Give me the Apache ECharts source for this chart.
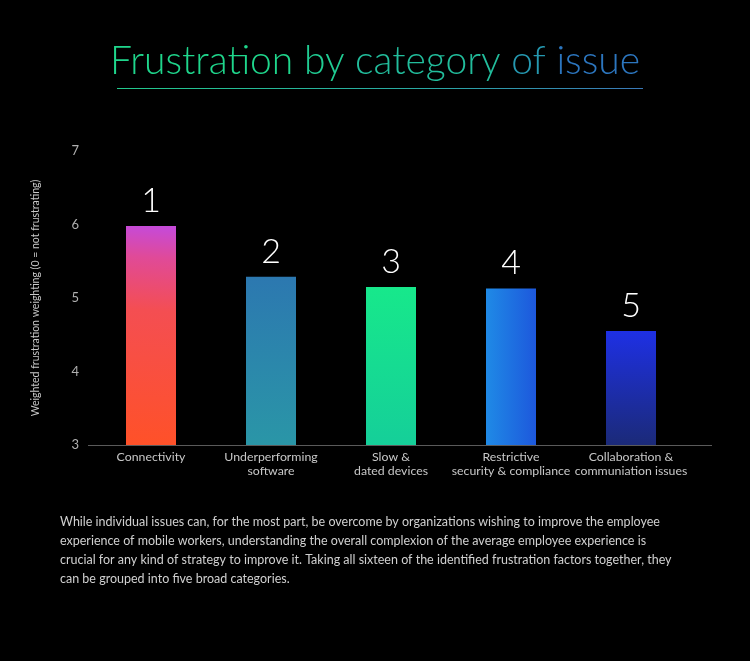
<!DOCTYPE html>
<html>
<head>
<meta charset="utf-8">
<script src="https://cdn.jsdelivr.net/npm/echarts@6/dist/echarts.min.js"></script>
<style>
html,body{margin:0;padding:0;background:#000;}
#chart{width:750px;height:661px;}
</style>
</head>
<body>
<div id="chart"></div>
<script>
const titleWords = ['Frustration', 'by', 'category', 'of', 'issue'];
const categories = ['Connectivity', 'Underperforming\nsoftware', 'Slow &\ndated devices', 'Restrictive\nsecurity & compliance', 'Collaboration &\ncommuniation issues'];
const values = [5.98, 5.29, 5.15, 5.13, 4.55];
const ranks = ['1', '2', '3', '4', '5'];
const yTicks = [3, 4, 5, 6, 7];
const yAxisName = 'Weighted frustration weighting (0 = not frustrating)';
const paragraph = [
  'While individual issues can, for the most part, be overcome by organizations wishing to improve the employee',
  'experience of mobile workers, understanding the overall complexion of the average employee experience is',
  'crucial for any kind of strategy to improve it. Taking all sixteen of the identified frustration factors together, they',
  'can be grouped into five broad categories.'
];

const titleColors = ['#1fd68c', '#20cc93', '#22bd9c', '#2598b0', '#2c76bf'];
const G = echarts.graphic.LinearGradient;
const barColors = [
  new G(0.3, 0, 0, 1, [{offset:0,color:'#c64ad8'},{offset:0.14,color:'#e04a98'},{offset:0.38,color:'#f44e52'},{offset:1,color:'#ff5128'}]),
  new G(0, 0, 0, 1, [{offset:0,color:'#2c78b0'},{offset:1,color:'#2a96a7'}]),
  new G(0, 0, 0, 1, [{offset:0,color:'#17e88b'},{offset:1,color:'#15cf99'}]),
  new G(0, 0, 1, 0, [{offset:0,color:'#1f8ae6'},{offset:1,color:'#1d58dc'}]),
  new G(0, 0, 0, 1, [{offset:0,color:'#1e30e4'},{offset:1,color:'#1b2a78'}])
];

const titleRich = {};
titleWords.forEach((w, i) => {
  titleRich['w' + i] = { color: titleColors[i], fontSize: 39, fontWeight: 300, fontFamily: 'Lato' };
});
const titleStr = titleWords.map((w, i) => '{w' + i + '|' + w + '}').join('{w0| }');

const chart = echarts.init(document.getElementById('chart'));
chart.setOption({
  backgroundColor: '#000',
  animation: false,
  title: {
    text: titleStr,
    left: 'center',
    top: 37,
    textStyle: { rich: titleRich, fontSize: 39, fontWeight: 300, fontFamily: 'Lato' }
  },
  grid: { left: 91, right: 59, top: 151, bottom: 216 },
  xAxis: {
    type: 'category',
    data: categories,
    axisLine: { show: false },
    axisTick: { show: false },
    axisLabel: { color: '#c8c8c8', fontSize: 12.3, lineHeight: 14, margin: 5, fontFamily: 'Lato', interval: 0 }
  },
  yAxis: {
    type: 'value',
    min: yTicks[0],
    max: yTicks[yTicks.length - 1],
    interval: 1,
    name: yAxisName,
    nameLocation: 'middle',
    nameRotate: 90,
    nameGap: 50,
    nameTextStyle: { color: '#c8c8c8', fontSize: 10.5, fontFamily: 'Lato' },
    axisLine: { show: false },
    axisTick: { show: false },
    splitLine: { show: false },
    axisLabel: { color: '#b0b0b0', fontSize: 13, margin: 12, fontFamily: 'Lato' }
  },
  series: [{
    type: 'bar',
    barWidth: 50,
    data: values.map((v, i) => ({ value: v, itemStyle: { color: barColors[i] } })),
    label: {
      show: true,
      position: 'top',
      distance: 8,
      color: '#fff',
      fontSize: 34,
      fontWeight: 300,
      fontFamily: 'Lato',
      formatter: p => ranks[p.dataIndex]
    }
  }],
  graphic: [
    {
      type: 'line',
      shape: { x1: 117, y1: 88.5, x2: 643, y2: 88.5 },
      style: { lineWidth: 1, stroke: new G(0, 0, 1, 0, [{offset:0,color:'#22c98c'},{offset:0.6,color:'#2aa7a4'},{offset:1,color:'#3a78b8'}]) }
    },
    {
      type: 'line',
      shape: { x1: 88, y1: 445.5, x2: 712, y2: 445.5 },
      style: { lineWidth: 1, stroke: '#5a5a5a' },
      z: 10
    },
    {
      type: 'text',
      left: 60,
      top: 512,
      style: {
        text: paragraph.join('\n'),
        fontSize: 12.5,
        lineHeight: 19,
        fontFamily: 'Lato',
        fill: '#d0d0d0'
      }
    }
  ]
});
</script>
</body>
</html>
